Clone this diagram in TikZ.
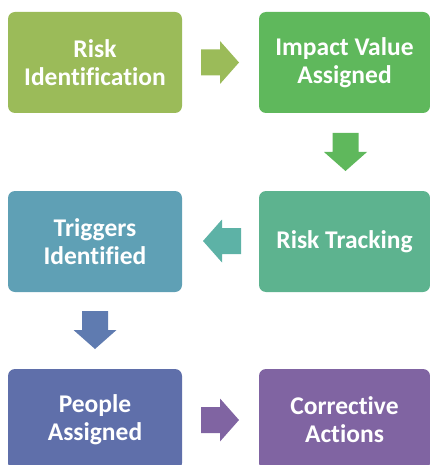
\documentclass[tikz,border=0pt]{standalone}
\usepackage{fontspec}
\setmainfont{Carlito}[Ligatures=NoCommon]
\definecolor{cA}{HTML}{9BBB59}
\definecolor{cB}{HTML}{5FB85C}
\definecolor{cC}{HTML}{5DB38F}
\definecolor{cD}{HTML}{5FA0B5}
\definecolor{cE}{HTML}{5F6FAA}
\definecolor{cF}{HTML}{8064A2}
\definecolor{aC}{HTML}{5DB2A6}
\definecolor{aD}{HTML}{5F7BB0}
\begin{document}
\begin{tikzpicture}[x=1pt,y=-1pt,
  box/.style={rounded corners=7pt,minimum width=174pt,minimum height=101pt,inner sep=0pt,
    text=white,align=center,font=\bfseries\fontsize{25.5}{28}\selectfont},
  barrow/.pic={\fill (-19,-13) -- (0,-13) -- (0,-21.5) -- (19,0) -- (0,21.5) -- (0,13) -- (-19,13) -- cycle;}]
\useasboundingbox (0,0) rectangle (430,465);
\begin{scope}
\clip (0,0) rectangle (430,465);
\node[box,fill=cA] (ri) at (95,62.5) {Risk\\Identification};
\node[box,fill=cB,minimum width=171pt] (iv) at (344.5,62.5) {Impact Value\\Assigned};
\node[box,fill=cC,minimum width=171pt] (rt) at (344.5,241.5) {Risk Tracking};
\node[box,fill=cD] (ti) at (95,241.5) {Triggers\\Identified};
\node[box,fill=cE] (pa) at (95,419.5) {People\\Assigned};
\node[box,fill=cF,minimum width=171pt] (ca) at (344.5,419.5) {Corrective\\Actions};
\end{scope}
\pic[cA] at (220,62.5) {barrow};
\pic[cB,rotate=-90] at (345.5,152) {barrow};
\pic[aC,rotate=180] at (222,241) {barrow};
\pic[aD,rotate=-90] at (95,330) {barrow};
\pic[cF] at (220,420) {barrow};
\end{tikzpicture}
\end{document}
